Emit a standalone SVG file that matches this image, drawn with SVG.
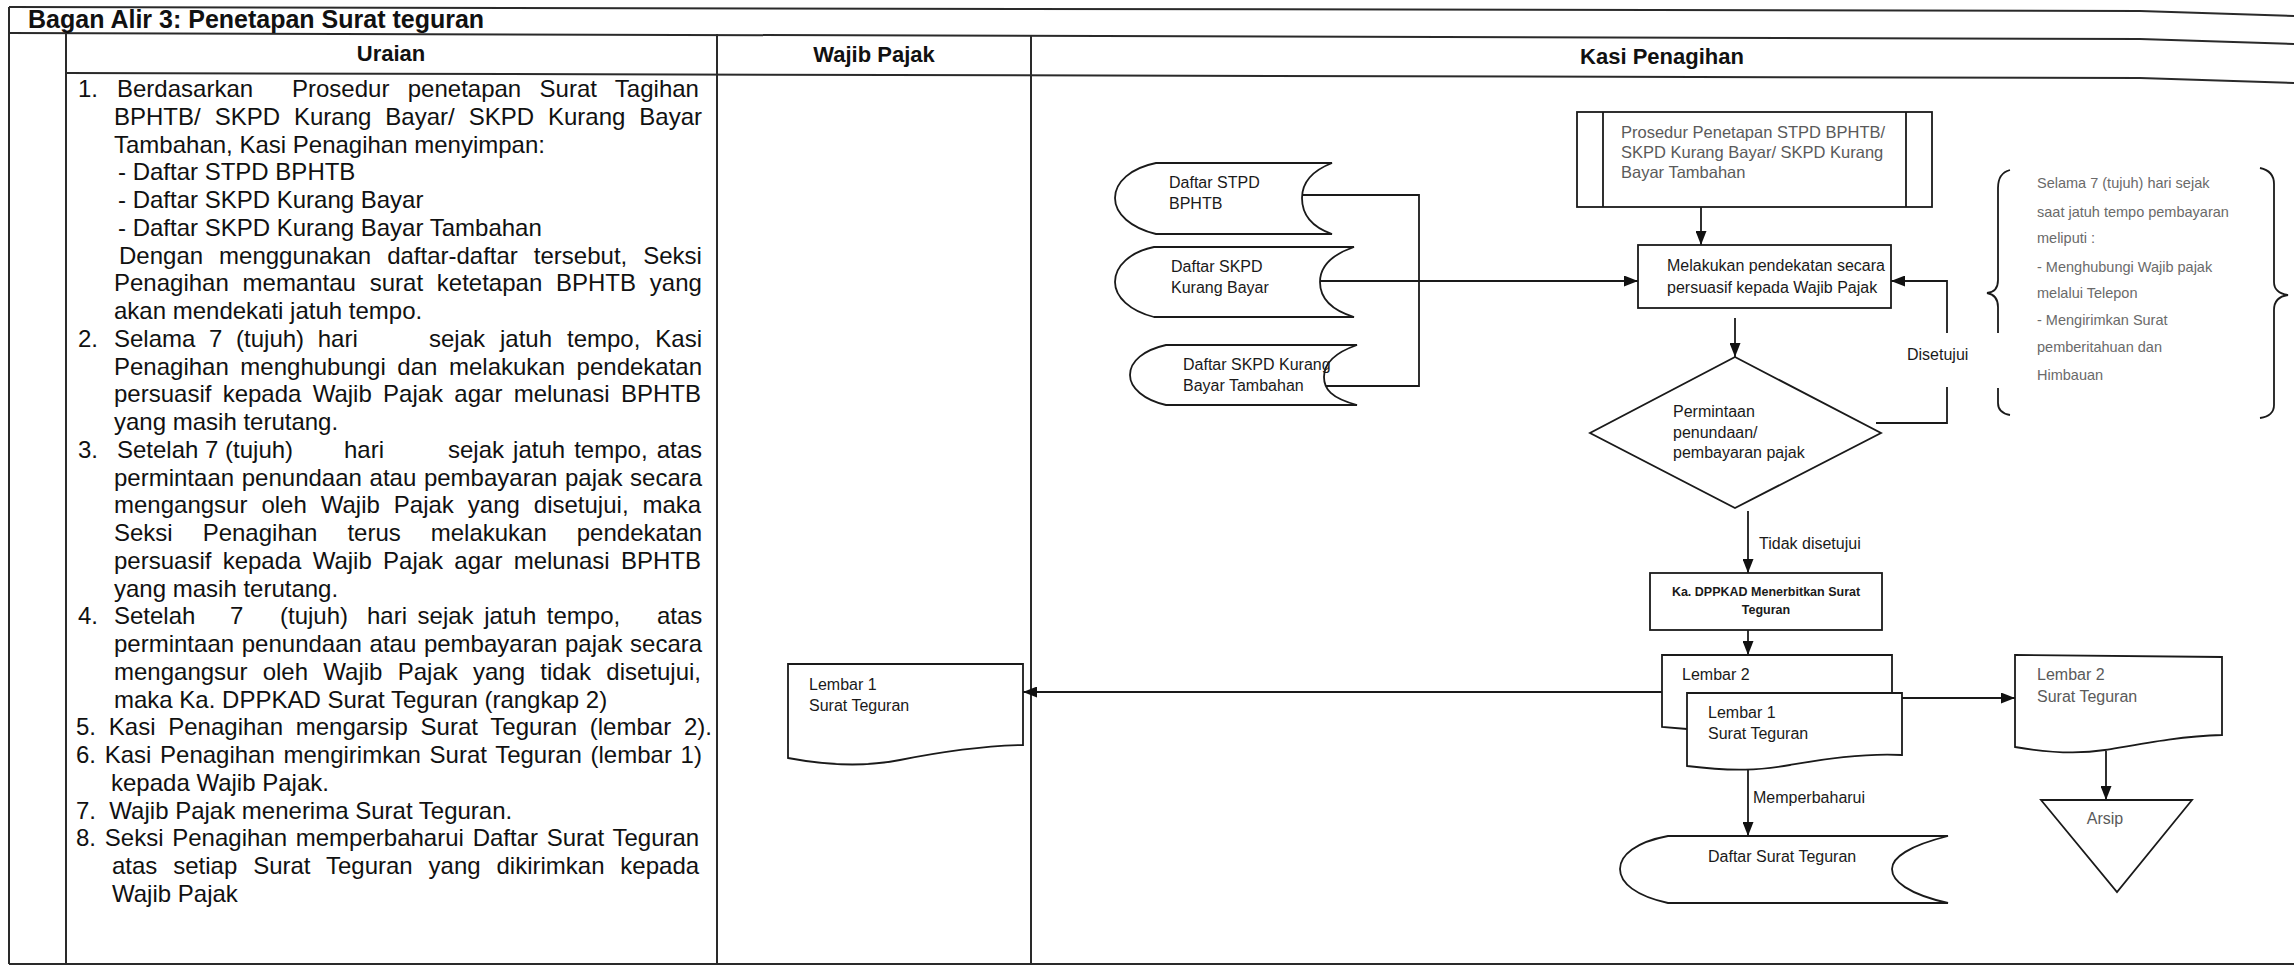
<svg xmlns="http://www.w3.org/2000/svg" width="2294" height="967" viewBox="0 0 2294 967">
<style>
.tbl{fill:none;stroke:#2a2a2a;stroke-width:2}
.shp{fill:#fff;stroke:#1a1a1a;stroke-width:1.8}
.con{fill:none;stroke:#1a1a1a;stroke-width:1.8}
.body{font-family:"Liberation Sans",Arial,sans-serif;font-size:24px;fill:#111}
.hdr{font-family:"Liberation Sans",Arial,sans-serif;font-size:22px;font-weight:bold;fill:#111}
.ttl{font-family:"Liberation Sans",Arial,sans-serif;font-size:25px;font-weight:bold;fill:#111}
.lbl{font-family:"Liberation Sans",Arial,sans-serif;font-size:16px;fill:#1a1a1a}
.grey{font-family:"Liberation Sans",Arial,sans-serif;font-size:16px;fill:#5a5a5a}
.note{font-family:"Liberation Sans",Arial,sans-serif;font-size:14.5px;fill:#6a6a6a}
.bold{font-family:"Liberation Sans",Arial,sans-serif;font-size:12.5px;font-weight:bold;fill:#1a1a1a}
</style>
<defs>
<marker id="arr" viewBox="0 0 14 11" refX="14" refY="5.5" markerWidth="14" markerHeight="11" markerUnits="userSpaceOnUse" orient="auto">
<path d="M0,0 L14,5.5 L0,11 Z" fill="#111"/>
</marker>
</defs>
<rect width="2294" height="967" fill="#fff"/>

<g id="table">
<path class="tbl" d="M9,7 L2140,11 L2294,16"/>
<path class="tbl" d="M9,33 L2140,39 L2294,44"/>
<path class="tbl" d="M66,73 L2140,78 L2294,83"/>
<path class="tbl" d="M9,964 H2294"/>
<path class="tbl" d="M9,7 V964 M66,33 V964 M717,34 V964 M1031,35 V964"/>
<text class="ttl" x="28" y="28">Bagan Alir 3: Penetapan Surat teguran</text>
<text class="hdr" x="391" y="61" text-anchor="middle">Uraian</text>
<text class="hdr" x="874" y="62" text-anchor="middle">Wajib Pajak</text>
<text class="hdr" x="1662" y="64" text-anchor="middle">Kasi Penagihan</text>
</g>

<g id="uraian">
<text class="body" x="78" y="97">1.</text>
<text class="body" x="117" y="97">Berdasarkan</text>
<text class="body" x="292" y="97" style="word-spacing:11.7px">Prosedur penetapan Surat Tagihan</text>
<text class="body" x="114" y="124.75" style="word-spacing:7.3px">BPHTB/ SKPD Kurang Bayar/ SKPD Kurang Bayar</text>
<text class="body" x="114" y="152.5">Tambahan, Kasi Penagihan menyimpan:</text>
<text class="body" x="118" y="180.25">- Daftar STPD BPHTB</text>
<text class="body" x="118" y="208">- Daftar SKPD Kurang Bayar</text>
<text class="body" x="118" y="235.75">- Daftar SKPD Kurang Bayar Tambahan</text>
<text class="body" x="119" y="263.5" style="word-spacing:9.3px">Dengan menggunakan daftar-daftar tersebut, Seksi</text>
<text class="body" x="114" y="291.25" style="word-spacing:7.1px">Penagihan memantau surat ketetapan BPHTB yang</text>
<text class="body" x="114" y="319">akan mendekati jatuh tempo.</text>
<text class="body" x="78" y="346.75">2.</text>
<text class="body" x="114" y="346.75" style="word-spacing:7px">Selama 7 (tujuh) hari</text>
<text class="body" x="429" y="346.75" style="word-spacing:8.3px">sejak jatuh tempo, Kasi</text>
<text class="body" x="114" y="374.5" style="word-spacing:4.9px">Penagihan menghubungi dan melakukan pendekatan</text>
<text class="body" x="114" y="402.25" style="word-spacing:4.6px">persuasif kepada Wajib Pajak agar melunasi BPHTB</text>
<text class="body" x="114" y="430">yang masih terutang.</text>
<text class="body" x="78" y="458">3.</text>
<text class="body" x="117" y="458">Setelah 7 (tujuh)</text>
<text class="body" x="344" y="458">hari</text>
<text class="body" x="448" y="458" style="word-spacing:2.4px">sejak jatuh tempo, atas</text>
<text class="body" x="114" y="485.5" style="word-spacing:1px">permintaan penundaan atau pembayaran pajak secara</text>
<text class="body" x="114" y="513.25" style="word-spacing:7.3px">mengangsur oleh Wajib Pajak yang disetujui, maka</text>
<text class="body" x="114" y="541" style="word-spacing:23.3px">Seksi Penagihan terus melakukan pendekatan</text>
<text class="body" x="114" y="568.75" style="word-spacing:4.6px">persuasif kepada Wajib Pajak agar melunasi BPHTB</text>
<text class="body" x="114" y="596.5">yang masih terutang.</text>
<text class="body" x="78" y="624.25">4.</text>
<text class="body" x="114" y="624.25">Setelah</text>
<text class="body" x="230" y="624.25">7</text>
<text class="body" x="280" y="624.25">(tujuh)</text>
<text class="body" x="367" y="624.25" style="word-spacing:3.9px">hari sejak jatuh tempo,</text>
<text class="body" x="657" y="624.25">atas</text>
<text class="body" x="114" y="652" style="word-spacing:1px">permintaan penundaan atau pembayaran pajak secara</text>
<text class="body" x="114" y="679.75" style="word-spacing:8.6px">mengangsur oleh Wajib Pajak yang tidak disetujui,</text>
<text class="body" x="114" y="707.5">maka Ka. DPPKAD Surat Teguran (rangkap 2)</text>
<text class="body" x="76" y="735.25" style="word-spacing:6.1px">5. Kasi Penagihan mengarsip Surat Teguran (lembar 2).</text>
<text class="body" x="76" y="763" style="word-spacing:2px">6. Kasi Penagihan mengirimkan Surat Teguran (lembar 1)</text>
<text class="body" x="111" y="790.75">kepada Wajib Pajak.</text>
<text class="body" x="76" y="818.5" xml:space="preserve">7.  Wajib Pajak menerima Surat Teguran.</text>
<text class="body" x="76" y="846.25" style="word-spacing:2.1px">8. Seksi Penagihan memperbaharui Daftar Surat Teguran</text>
<text class="body" x="112" y="874" style="word-spacing:9.2px">atas setiap Surat Teguran yang dikirimkan kepada</text>
<text class="body" x="112" y="901.75">Wajib Pajak</text>
</g>

<g id="connectors">
<path class="con" d="M1302,195 H1419 V386 H1324"/>
<path class="con" d="M1320,281 H1638" marker-end="url(#arr)"/>
<path class="con" d="M1701,207 V245" marker-end="url(#arr)"/>
<path class="con" d="M1735,318 V357" marker-end="url(#arr)"/>
<path class="con" d="M1876,423 H1947 V387"/>
<path class="con" d="M1947,333 V281 H1891" marker-end="url(#arr)"/>
<path class="con" d="M1748,511 V573" marker-end="url(#arr)"/>
<path class="con" d="M1748,630 V655" marker-end="url(#arr)"/>
<path class="con" d="M1662,692 H1023" marker-end="url(#arr)"/>
<path class="con" d="M1902,698 H2015" marker-end="url(#arr)"/>
<path class="con" d="M1748,770 V836" marker-end="url(#arr)"/>
<path class="con" d="M2106,751 V800" marker-end="url(#arr)"/>
<text class="lbl" x="1907" y="360">Disetujui</text>
<text class="lbl" x="1759" y="549">Tidak disetujui</text>
<text class="lbl" x="1753" y="803">Memperbaharui</text>
</g>

<g id="daftar-stpd">
<path class="shp" d="M1156,163 H1332 C1309,172 1302,185 1302,198 C1302,212 1309,226 1332,234 H1156 C1131,228 1115,214 1115,198 C1115,182 1131,168 1156,163 Z"/>
<text class="lbl" x="1169" y="188">Daftar STPD</text>
<text class="lbl" x="1169" y="209">BPHTB</text>
</g>

<g id="daftar-skpd-kb">
<path class="shp" d="M1154,247 H1354 C1328,256 1320,269 1320,282 C1320,296 1328,309 1354,317 H1154 C1130,311 1115,297 1115,282 C1115,266 1130,252 1154,247 Z"/>
<text class="lbl" x="1171" y="272">Daftar SKPD</text>
<text class="lbl" x="1171" y="293">Kurang Bayar</text>
</g>

<g id="daftar-skpd-kbt">
<path class="shp" d="M1166,345 H1357 C1331,354 1324,366 1324,377 C1324,389 1331,398 1357,405 H1166 C1144,400 1130,388 1130,375 C1130,361 1144,350 1166,345 Z"/>
<text class="lbl" x="1183" y="370">Daftar SKPD Kurang</text>
<text class="lbl" x="1183" y="391">Bayar Tambahan</text>
</g>

<g id="prosedur">
<rect class="shp" x="1577" y="112" width="355" height="95"/>
<path class="con" d="M1603,112 V207 M1906,112 V207"/>
<text class="grey" x="1621" y="138" style="font-size:16.5px">Prosedur Penetapan STPD BPHTB/</text>
<text class="grey" x="1621" y="158" style="font-size:16.5px">SKPD Kurang Bayar/ SKPD Kurang</text>
<text class="grey" x="1621" y="178" style="font-size:16.5px">Bayar Tambahan</text>
</g>

<g id="melakukan">
<rect class="shp" x="1638" y="245" width="253" height="63"/>
<text class="lbl" x="1667" y="271">Melakukan pendekatan secara</text>
<text class="lbl" x="1667" y="293">persuasif kepada Wajib Pajak</text>
</g>

<g id="keputusan">
<polygon class="shp" points="1735,357 1881,433 1735,508 1590,433"/>
<text class="lbl" x="1673" y="417">Permintaan</text>
<text class="lbl" x="1673" y="438">penundaan/</text>
<text class="lbl" x="1673" y="458">pembayaran pajak</text>
</g>

<g id="catatan">
<path class="con" d="M2010,170 Q1998,173 1998,188 L1998,280 Q1998,292 1987,293 Q1998,295 1998,307 L1998,333 M1998,388 L1998,403 Q1998,413 2010,415"/>
<path class="con" d="M2260,168 Q2274,171 2274,184 L2274,282 Q2274,293 2288,295 Q2274,297 2274,310 L2274,405 Q2274,416 2260,418"/>
<text class="note" x="2037" y="188">Selama 7 (tujuh) hari sejak</text>
<text class="note" x="2037" y="217">saat jatuh tempo pembayaran</text>
<text class="note" x="2037" y="243">meliputi :</text>
<text class="note" x="2037" y="272">- Menghubungi Wajib pajak</text>
<text class="note" x="2037" y="298">melalui Telepon</text>
<text class="note" x="2037" y="325">- Mengirimkan Surat</text>
<text class="note" x="2037" y="352">pemberitahuan dan</text>
<text class="note" x="2037" y="380">Himbauan</text>
</g>

<g id="ka-dppkad">
<rect class="shp" x="1650" y="573" width="232" height="57"/>
<text class="bold" x="1766" y="596" text-anchor="middle">Ka. DPPKAD Menerbitkan Surat</text>
<text class="bold" x="1766" y="614" text-anchor="middle">Teguran</text>
</g>

<g id="lembar-stack">
<path class="shp" d="M1687,729 L1662,727 L1662,655 L1892,655 L1892,693"/>
<text class="lbl" x="1682" y="680">Lembar 2</text>
<path class="shp" d="M1687,693 H1902 V755 C1860,753 1820,760 1790,765 C1760,770 1735,772 1687,766 Z"/>
<text class="lbl" x="1708" y="718">Lembar 1</text>
<text class="lbl" x="1708" y="739">Surat Teguran</text>
</g>

<g id="wp-lembar1">
<path class="shp" d="M788,664 H1023 V745 C980,746 940,752 900,760 C870,766 830,766 788,758 Z"/>
<text class="lbl" x="809" y="690">Lembar 1</text>
<text class="lbl" x="809" y="711">Surat Teguran</text>
</g>

<g id="lembar2-arsip">
<path class="shp" d="M2015,655 L2222,657 V735 C2180,736 2140,744 2105,750 C2080,754 2050,753 2015,747 Z"/>
<text class="grey" x="2037" y="680">Lembar 2</text>
<text class="grey" x="2037" y="702">Surat Teguran</text>
</g>

<g id="arsip">
<polygon class="shp" points="2041,800 2192,800 2117,892"/>
<text class="grey" x="2105" y="824" text-anchor="middle">Arsip</text>
</g>

<g id="daftar-surat-teguran">
<path class="shp" d="M1668,836 H1948 C1908,846 1892,858 1892,869 C1892,881 1908,894 1948,903 H1668 C1636,896 1620,883 1620,869 C1620,855 1636,842 1668,836 Z"/>
<text class="lbl" x="1708" y="862">Daftar Surat Teguran</text>
</g>
</svg>
